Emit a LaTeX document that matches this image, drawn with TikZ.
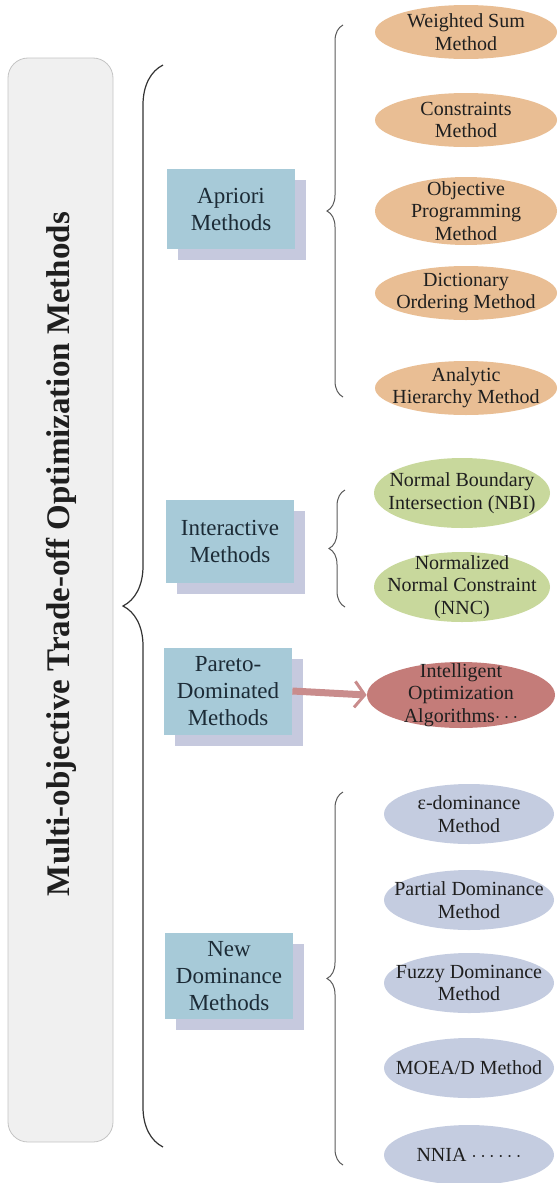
\documentclass[tikz,border=0pt]{standalone}
\usepackage{fontspec}
\setmainfont{Liberation Serif}
\usepackage{tikz}
\usetikzlibrary{calc,arrows.meta,decorations.pathreplacing,positioning,shapes.geometric,shadows}
\definecolor{panel}{HTML}{F0F0F0}
\definecolor{panelline}{HTML}{C4C4C4}
\definecolor{catfill}{HTML}{A7CAD8}
\definecolor{catshade}{HTML}{C6C9DE}
\definecolor{cattext}{HTML}{1C2B36}
\definecolor{aprfill}{HTML}{E9BE94}
\definecolor{intfill}{HTML}{C8D89C}
\definecolor{parfill}{HTML}{C47C79}
\definecolor{ndfill}{HTML}{C4CCE0}
\definecolor{arrowc}{HTML}{C98C8C}
\definecolor{bracec}{HTML}{5A5A5A}

\begin{document}
\begin{tikzpicture}[x=0.5pt, y=-0.5pt,
  every node/.style={text=black!88},
  cat/.style={fill=catfill, text=cattext, minimum width=64pt, minimum height=40pt, inner sep=2pt, align=center,
    font=\fontsize{11.5}{13.5}\selectfont,
    general shadow={fill=catshade, shadow xshift=5.5pt, shadow yshift=-5.5pt}},
  meth/.style={ellipse, minimum width=91pt, minimum height=27pt, inner xsep=-14pt, inner ysep=-7pt, align=center,
    font=\fontsize{10}{11.2}\selectfont},
  grpbrace/.style={decorate, decoration={brace, amplitude=8pt}, draw=bracec, line width=0.5pt}]
\useasboundingbox (0,0) rectangle (557,1183);

% left panel and title
\node[draw=panelline, fill=panel, rounded corners=10pt, minimum width=52.5pt, minimum height=542pt] (frame) at (60.5,600) {};
\node[rotate=90, font=\fontsize{16.5}{18}\selectfont\bfseries] (title) at (61,554) {Multi-objective Trade-off Optimization Methods};
\coordinate (bigtop) at (163,65);
\coordinate (bigbot) at (163,1147);
\draw[decorate, decoration={brace, amplitude=20pt}, draw=black!80, line width=0.6pt] (bigbot) -- (bigtop);

% categories
\node[cat] (apr) at (231,209) {Apriori\\Methods};
\node[cat, minimum height=41.5pt] (inter) at (230,541) {Interactive\\Methods};
\node[cat, minimum height=43.5pt] (pdm) at (228,691) {Pareto-\\Dominated\\Methods};
\node[cat, minimum height=43pt] (ndm) at (229,976) {New\\Dominance\\Methods};

% apriori methods
\node[meth, fill=aprfill] (wsm) at (466,32) {Weighted Sum\\Method};
\node[meth, fill=aprfill] (cm) at (466,120) {Constraints\\Method};
\node[meth, fill=aprfill, minimum height=34pt] (opm) at (466,211) {Objective\\Programming\\Method};
\node[meth, fill=aprfill] (dom) at (466,293) {Dictionary\\Ordering Method};
\node[meth, fill=aprfill] (ahm) at (466,388) {Analytic\\Hierarchy Method};
\coordinate (b1t) at (343,25);
\coordinate (b1b) at (343,397);
\draw[grpbrace] (b1b) -- (b1t);

% interactive methods
\node[meth, fill=intfill, minimum width=88pt, minimum height=35pt] (nbi) at (462,493) {Normal Boundary\\Intersection (NBI)};
\node[meth, fill=intfill, minimum width=88pt, minimum height=35pt] (nnc) at (462,587) {Normalized\\Normal Constraint\\(NNC)};
\coordinate (b2t) at (345,490);
\coordinate (b2b) at (345,607);
\draw[grpbrace] (b2b) -- (b2t);

% pareto-dominated
\node[meth, fill=parfill, minimum width=94pt, minimum height=33pt] (ioa) at (461,695) {Intelligent\\Optimization\\Algorithms$\cdots$};
\draw[arrowc, line width=3.5pt, -{Straight Barb[length=5pt, width=13pt, line width=1.5pt]}] (pdm.east) -- (ioa.west);

% new dominance methods
\node[meth, fill=ndfill, minimum width=85pt, minimum height=30pt] (edm) at (469,814) {ε-dominance\\Method};
\node[meth, fill=ndfill, minimum width=85pt, minimum height=30pt] (pardm) at (469,900) {Partial Dominance\\Method};
\node[meth, fill=ndfill, minimum width=85pt, minimum height=30pt] (fdm) at (469,983) {Fuzzy Dominance\\Method};
\node[meth, fill=ndfill, minimum width=85pt, minimum height=30pt] (moea) at (469,1068) {MOEA/D Method};
\node[meth, fill=ndfill, minimum width=85pt, minimum height=30pt] (nnia) at (469,1155) {NNIA $\cdots\cdots$};
\coordinate (b3t) at (343,792);
\coordinate (b3b) at (343,1165);
\draw[grpbrace] (b3b) -- (b3t);
\end{tikzpicture}
\end{document}
